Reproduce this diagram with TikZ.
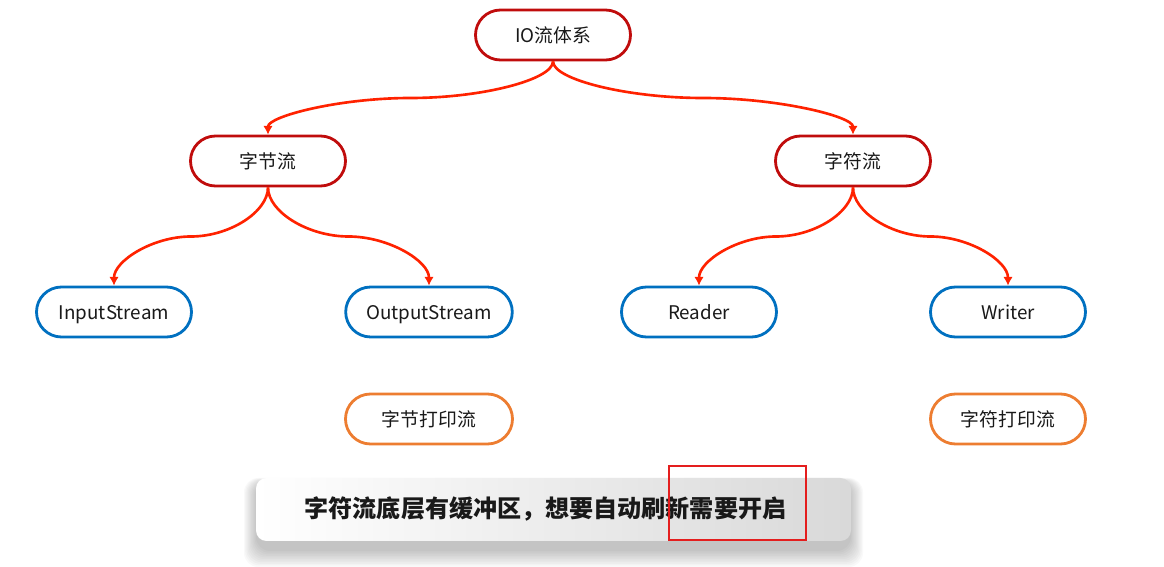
\documentclass[tikz,border=0pt]{standalone}
\usepackage{fontspec}
\setmainfont{Noto Sans CJK SC}
\usetikzlibrary{arrows.meta,calc}
\definecolor{boxroot}{RGB}{192,12,12}
\definecolor{boxleaf}{RGB}{0,112,192}
\definecolor{boxprint}{RGB}{237,125,49}
\definecolor{linkred}{RGB}{255,34,0}
\definecolor{figtext}{RGB}{25,25,25}
\definecolor{hilite}{RGB}{228,30,30}
\tikzset{
  pill/.style    ={draw, line width=1.6pt, rounded corners=0.5cm, minimum width=3.1cm, minimum height=1cm,
                   inner xsep=0.41cm, text height=0.93em, text depth=0.07em, fill=white, text=figtext,
                   font=\fontsize{10.7}{12}\selectfont},
  topbox/.style  ={pill, draw=boxroot},
  leafbox/.style ={pill, draw=boxleaf},
  printbox/.style={pill, draw=boxprint},
  link/.style    ={draw=linkred, line width=1.5pt, -{Latex[length=5pt,width=5.5pt]}},
  swoop/.style   ={to path={let \p1=(\tikztostart), \p2=(\tikztotarget) in
                   .. controls (\x1,{\y1+0.25*(\y2-\y1)}) and ({\x1+0.25*(\x2-\x1)},{0.5*(\y1+\y2)})
                   .. ({0.5*(\x1+\x2)},{0.5*(\y1+\y2)})
                   .. controls ({\x2-0.25*(\x2-\x1)},{0.5*(\y1+\y2)}) and (\x2,{\y2-0.25*(\y2-\y1)})
                   .. (\tikztotarget)}},
  tipbox/.style  ={font=\fontsize{13.7}{16}\selectfont\bfseries, text=black!90, inner sep=1pt},
  hibox/.style   ={draw=hilite, line width=1.4pt},
}

\begin{document}
\begin{tikzpicture}
  \useasboundingbox (0,0) rectangle (23.28,11.34);
  % tree
  \node[topbox] (io) at (11.06,10.64) {IO流体系};
  \node[topbox] (byte) at (5.36,8.12) {字节流};
  \node[topbox] (char) at (17.06,8.12) {字符流};
  \node[leafbox] (instream) at (2.28,5.10) {InputStream};
  \node[leafbox] (outstream) at (8.58,5.10) {OutputStream};
  \node[leafbox] (reader) at (13.98,5.10) {Reader};
  \node[leafbox] (writer) at (20.16,5.10) {Writer};
  \node[printbox,minimum width=3.34cm] (byteprint) at (8.58,2.96) {字节打印流};
  \node[printbox] (charprint) at (20.16,2.96) {字符打印流};
  \draw[link] (io.south) to[swoop] (byte.north);
  \draw[link] (io.south) to[swoop] (char.north);
  \draw[link] (byte.south) to[swoop] (instream.north);
  \draw[link] (byte.south) to[swoop] (outstream.north);
  \draw[link] (char.south) to[swoop] (reader.north);
  \draw[link] (char.south) to[swoop] (writer.north);
  % caption bar
  \foreach \e in {0,0.04,...,0.4}
    \fill[black,opacity=0.022,rounded corners=8pt] (5.12-0.6*\e,0.32-0.8*\e) rectangle (17.02+0.6*\e,1.70+0.2*\e);
  \shade[rounded corners=6pt,left color=white,right color=black!15] (5.12,0.52) rectangle (17.02,1.78);
  \node[tipbox] (tip) at (10.91,1.16) {字符流底层有缓冲区，想要自动刷新需要开启};
  \draw[hibox] (13.38,0.54) rectangle (16.12,2.02);
\end{tikzpicture}
\end{document}
